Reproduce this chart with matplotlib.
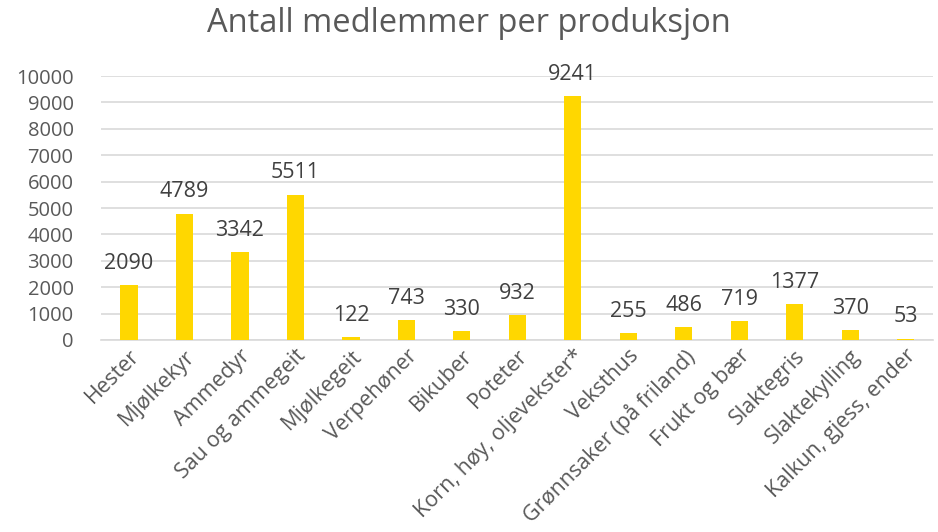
import matplotlib.pyplot as plt

# Data
categories = ['Hester', 'Mjølkekyr', 'Ammedyr', 'Sau og ammegeit', 'Mjølkegeit',
              'Verpehøner', 'Bikuber', 'Poteter', 'Korn, høy, oljevekster*', 'Veksthus',
              'Grønnsaker (på friland)', 'Frukt og bær', 'Slaktegris', 'Slaktekylling',
              'Kalkun, gjess, ender']
members = [2090, 4789, 3342, 5511, 122, 743, 330, 932, 9241, 255, 486, 719, 1377, 370, 53]

plt.rcParams['font.family'] = ['Open Sans', 'DejaVu Sans']

fig = plt.figure(figsize=(9.38, 5.32), dpi=100)
ax = fig.add_axes([0.108, 0.361, 0.887, 0.496])

x = range(len(categories))
ax.bar(x, members, width=0.31, color='#FFD700', zorder=3)

for i, v in zip(x, members):
    ax.annotate(str(v), (i, v), xytext=(0, 8), textcoords='offset points',
                ha='center', va='bottom', fontsize=15.5, color='#404040')

ax.set_ylim(0, 10000)
ax.set_xlim(-0.5, len(categories) - 0.5)
ax.set_yticks(range(0, 10001, 1000))
ax.yaxis.grid(True, color='#D9D9D9', linewidth=1.2, zorder=0)
ax.tick_params(axis='y', length=0, labelsize=14.5, labelcolor='#595959', pad=20)
ax.tick_params(axis='x', length=0, labelsize=15.5, labelcolor='#595959', pad=4)
ax.set_xticks(list(x))
ax.set_xticklabels(categories, rotation=45, ha='right', rotation_mode='anchor')

for s in ['top', 'right', 'left']:
    ax.spines[s].set_visible(False)
ax.spines['bottom'].set_color('#D9D9D9')
ax.spines['bottom'].set_linewidth(1.2)

fig.text(0.5, 0.955, 'Antall medlemmer per produksjon', ha='center', va='center',
         fontsize=23.5, color='#595959')

fig.savefig('out.png', dpi=100)
